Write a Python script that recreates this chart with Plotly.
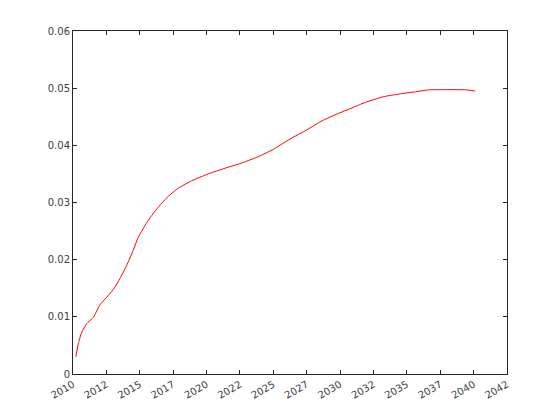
import plotly.graph_objects as go

dates = ["2010-03-20", "2010-05-26", "2010-08-25", "2011-01-10", "2011-07-08",
         "2012-01-08", "2012-07-08", "2013-01-08", "2013-07-08", "2014-01-08",
         "2014-07-01", "2014-11-20", "2015-08-22", "2016-05-22", "2017-02-20",
         "2017-11-20", "2018-11-20", "2020-02-17", "2021-05-19", "2022-07-01",
         "2023-10-04", "2025-01-01", "2026-04-01", "2027-07-01", "2028-09-27",
         "2029-12-28", "2030-09-27", "2031-06-10", "2032-01-01", "2033-03-28",
         "2034-06-28", "2035-09-27", "2036-08-08", "2039-07-01", "2040-02-05"]
values = [0.0030, 0.0053, 0.0073, 0.0088, 0.0099,
          0.0121, 0.0134, 0.0148, 0.0167, 0.0190,
          0.0216, 0.0239, 0.0269, 0.0292, 0.0311,
          0.0325, 0.0338, 0.0350, 0.0360, 0.0368,
          0.0379, 0.0393, 0.0411, 0.0427, 0.0444,
          0.0457, 0.0464, 0.0471, 0.0476, 0.0485,
          0.0490, 0.0494, 0.0497, 0.0497, 0.0495]

xtick_vals = ["2010-01-01", "2012-07-01", "2015-01-01", "2017-07-01", "2020-01-01",
              "2022-07-01", "2025-01-01", "2027-07-01", "2030-01-01", "2032-07-01",
              "2035-01-01", "2037-07-01", "2040-01-01", "2042-07-01"]
xtick_text = ["2010", "2012", "2015", "2017", "2020", "2022", "2025", "2027",
              "2030", "2032", "2035", "2037", "2040", "2042"]
ytick_vals = [0, 0.01, 0.02, 0.03, 0.04, 0.05, 0.06]
ytick_text = ["0", "0.01", "0.02", "0.03", "0.04", "0.05", "0.06"]

fig = go.Figure()
fig.add_trace(go.Scatter(x=dates, y=values, mode="lines",
                         line=dict(color="#ff0000", width=1, shape="spline", smoothing=0.5),
                         showlegend=False))

axis_common = dict(showline=True, linecolor="#262626", linewidth=1, mirror="ticks",
                   ticks="inside", ticklen=4, tickcolor="#262626", showgrid=False,
                   zeroline=False, tickfont=dict(family="DejaVu Sans", size=10, color="#404040"))

fig.update_layout(
    width=560, height=420,
    margin=dict(l=65, r=61, t=23, b=54),
    paper_bgcolor="white", plot_bgcolor="white",
    xaxis=dict(type="date", range=["2010-01-01", "2042-07-01"], automargin=False,
               tickvals=xtick_vals, ticktext=xtick_text, tickangle=-30, **axis_common),
    yaxis=dict(range=[0, 0.06], tickvals=ytick_vals, ticktext=ytick_text,
               automargin=False, **axis_common),
)

fig.write_html("out.html")
